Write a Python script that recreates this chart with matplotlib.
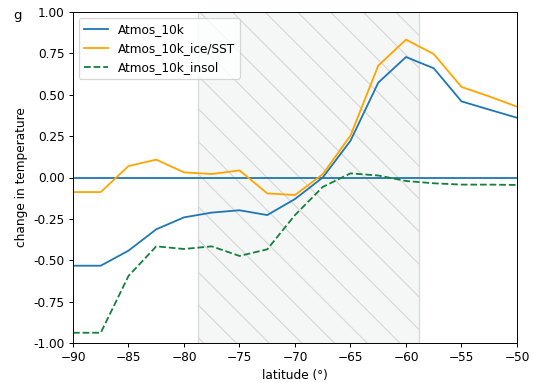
import numpy as np
import matplotlib
matplotlib.use("Agg")
import matplotlib.pyplot as plt
from matplotlib.transforms import IdentityTransform

lat = [-90, -87.5, -85, -82.5, -80, -77.5, -75, -72.5, -70, -67.5, -65, -62.5, -60, -57.5, -55, -52.5, -50]
atmos = [-0.533, -0.533, -0.442, -0.313, -0.241, -0.212, -0.198, -0.227, -0.13, 0.0, 0.222, 0.573, 0.728, 0.66, 0.46, 0.41, 0.361]
ice_sst = [-0.088, -0.088, 0.069, 0.108, 0.031, 0.021, 0.043, -0.096, -0.106, 0.02, 0.253, 0.676, 0.833, 0.746, 0.547, 0.49, 0.428]
insol = [-0.938, -0.938, -0.595, -0.416, -0.432, -0.416, -0.474, -0.434, -0.227, -0.057, 0.025, 0.012, -0.021, -0.035, -0.043, -0.043, -0.045]
span = (-78.75, -58.8)
yticks = [-1.0, -0.75, -0.5, -0.25, 0.0, 0.25, 0.5, 0.75, 1.0]

W, H = 533, 383
DPI = 87
fig = plt.figure(figsize=(W / DPI, H / DPI), dpi=DPI)
ax = fig.add_axes([73 / W, 1 - 343 / H, (517 - 73) / W, (343 - 12) / H])

patch = ax.axvspan(span[0], span[1], facecolor='#f5f6f6', edgecolor='#d8d8d8', linewidth=1.0, zorder=0)

# hatch lines drawn in display space, clipped to the span
c0 = 253.0
step = 32.7
for k in range(-20, 30):
    c = c0 + k * step  # x_img - y_img = c
    y_img = np.array([0, H])
    x_img = c + y_img
    ln = ax.plot(x_img, H - y_img, transform=IdentityTransform(), color='#d6d6d6',
                 linewidth=0.9, zorder=0.5)[0]
    ln.set_clip_path(patch)

ax.axhline(0, color='C0', linewidth=1.5, zorder=1)
ax.plot(lat, atmos, color='C0', linewidth=1.5, label='Atmos_10k')
ax.plot(lat, ice_sst, color='orange', linewidth=1.5, label='Atmos_10k_ice/SST')
ax.plot(lat, insol, color='#15803d', linewidth=1.5, linestyle='--', label='Atmos_10k_insol')

ax.set_xlim(-90, -50)
ax.set_ylim(-1, 1)
ax.set_yticks(yticks)
ax.yaxis.set_major_formatter(matplotlib.ticker.FormatStrFormatter('%.2f'))
ax.set_xlabel('latitude (°)')
ax.set_ylabel('change in temperature')
ax.legend(loc='upper left')
fig.text(17 / W, 1 - 16 / H, 'g', fontsize=11, ha='center', va='center')

fig.savefig('out.png', dpi=DPI)
